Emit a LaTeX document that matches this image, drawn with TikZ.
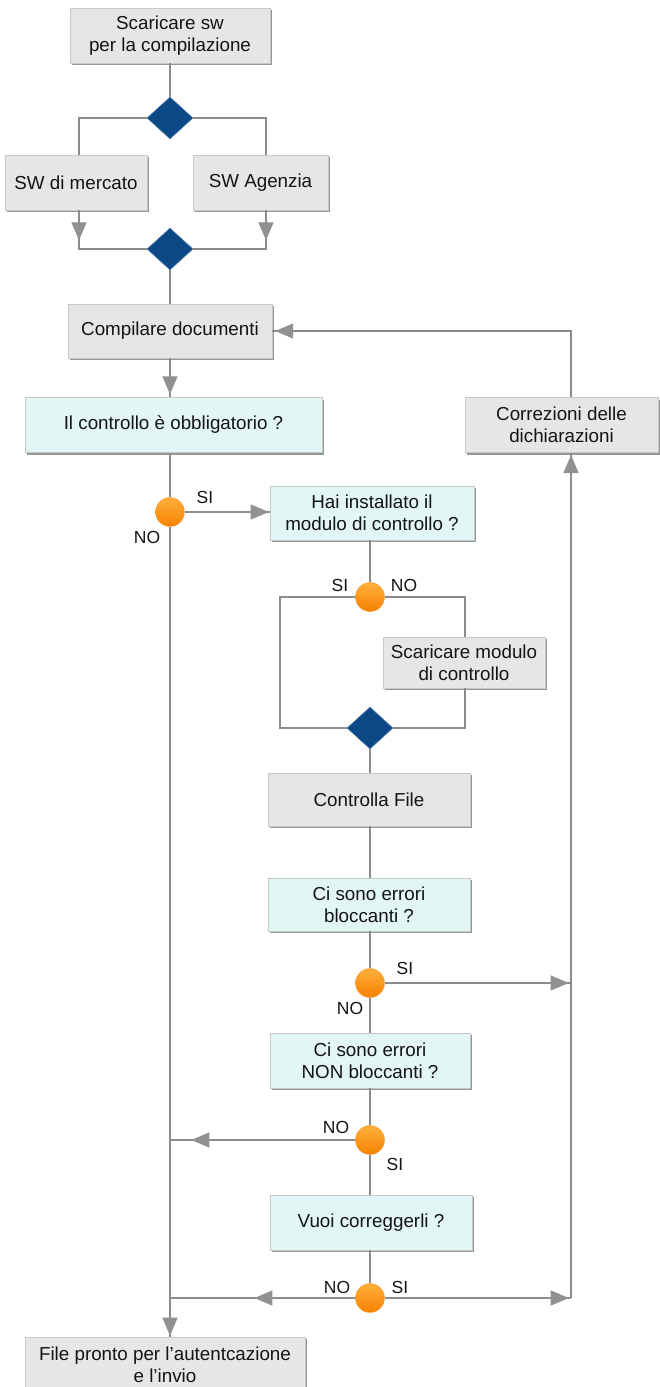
\documentclass[tikz,border=0pt]{standalone}
\usepackage{fontspec}
\setmainfont{Liberation Sans}
\usetikzlibrary{shapes.geometric,arrows.meta,decorations.markings,shadows,calc}
\definecolor{boxgray}{RGB}{230,230,230}
\definecolor{boxcyan}{RGB}{226,246,245}
\definecolor{bordergray}{RGB}{200,200,200}
\definecolor{shadowgray}{RGB}{150,150,150}
\definecolor{linegray}{RGB}{140,140,140}
\definecolor{tipgray}{RGB}{145,145,145}
\definecolor{dblue}{RGB}{11,72,133}
\definecolor{txt}{RGB}{20,20,20}
\definecolor{orangetop}{RGB}{255,175,60}
\definecolor{orangebot}{RGB}{245,130,0}
\begin{document}
\begin{tikzpicture}[x=1pt,y=-1pt,
  fbox/.style={rectangle, draw=bordergray, line width=0.6pt, fill=#1, align=center,
    inner sep=0pt, text=txt, font=\fontsize{18.8}{22}\selectfont,
    drop shadow={shadow xshift=2.2pt, shadow yshift=-2.2pt, fill=shadowgray, opacity=1}},
  gbox/.style={fbox=boxgray},
  cbox/.style={fbox=boxcyan},
  dia/.style={diamond, fill=dblue, draw=dblue!70!white, line width=0.6pt, inner sep=0pt,
    minimum width=46pt, minimum height=42pt},
  ball/.style={circle, inner sep=0pt, minimum size=29pt, top color=orangetop,
    bottom color=orangebot, draw=orangebot!80!white, line width=0.4pt},
  conn/.style={draw=linegray, line width=1.2pt},
  arrowat/.style={postaction={decorate}, decoration={markings,
    mark=at position #1 with {\arrow{Triangle[length=18pt,width=15pt,color=tipgray]}}}},
  lbl/.style={inner sep=0pt, text=txt, font=\fontsize{17.5}{17.5}\selectfont}
]
\useasboundingbox (0,0) rectangle (660,1387);

% nodes
\node[gbox, minimum width=200pt, minimum height=55pt] (A) at (170,35.5) {Scaricare sw\\per la compilazione};
\node[dia] (D1) at (170,118) {};
\node[gbox, minimum width=142pt, minimum height=55pt] (B1) at (76,182.5) {SW di mercato};
\node[gbox, minimum width=135pt, minimum height=55pt] (B2) at (260.5,182.5) {SW Agenzia};
\node[dia] (D2) at (170,249) {};
\node[gbox, minimum width=204pt, minimum height=54pt] (C) at (170,331) {Compilare documenti};
\node[cbox, minimum width=297pt, minimum height=55pt] (Q1) at (173.5,425) {Il controllo è obbligatorio ?};
\node[gbox, minimum width=193pt, minimum height=55pt] (R) at (561.5,425) {Correzioni delle\\dichiarazioni};
\node[ball] (O1) at (170,512) {};
\node[cbox, minimum width=204pt, minimum height=54pt] (Q2) at (372,513) {Hai installato il\\modulo di controllo ?};
\node[ball] (O2) at (370,597) {};
\node[gbox, minimum width=162pt, minimum height=51pt] (S) at (464,662.5) {Scaricare modulo\\di controllo};
\coordinate (L3) at (280,728);
\node[dia] (D3) at (370,728) {};
\node[gbox, minimum width=202pt, minimum height=53pt] (F) at (369,799.5) {Controlla File};
\node[cbox, minimum width=202pt, minimum height=53pt] (Q3) at (369,904.5) {Ci sono errori\\bloccanti ?};
\node[ball] (O3) at (370,983) {};
\node[cbox, minimum width=200pt, minimum height=55pt] (Q4) at (370,1060.5) {Ci sono errori\\NON bloccanti ?};
\node[ball] (O4) at (370,1140) {};
\node[cbox, minimum width=202pt, minimum height=55pt] (Q5) at (371,1222.5) {Vuoi correggerli ?};
\node[ball] (O5) at (370,1298) {};
\node[gbox, minimum width=280pt, minimum height=56pt] (E) at (165,1365) {File pronto per l’autentcazione\\e l’invio};
\coordinate (P3) at (571,983);
\coordinate (P4) at (170,1140);
\coordinate (P5L) at (170,1298);
\coordinate (P5R) at (571,1298);

% connectors
\draw[conn] (A.south) -- (D1.north);
\draw[conn] (D1.west) -| ([xshift=3pt]B1.north);
\draw[conn] (D1.east) -| ([xshift=5.5pt]B2.north);
\draw[conn, arrowat=30pt] ([xshift=3pt]B1.south) |- (D2.west);
\draw[conn, arrowat=30pt] ([xshift=5.5pt]B2.south) |- (D2.east);
\draw[conn] (D2.south) -- (C.north);
\draw[conn, arrowat=36pt] (C.south) -- (C.south |- Q1.north);
\draw[conn] (Q1.south -| O1) -- (O1.north);
\draw[conn, arrowat=84pt] (O1.east) -- (O1.east -| Q2.west);
\draw[conn] (Q2.south -| O2) -- (O2.north);
\draw[conn] (O2.west) -| (L3) -- (D3.west);
\draw[conn] (O2.east) -| ([xshift=1pt]S.north);
\draw[conn] ([xshift=1pt]S.south) |- (D3.east);
\draw[conn] (D3.south) -- (D3.south |- F.north);
\draw[conn] (D3.south |- F.south) -- (D3.south |- Q3.north);
\draw[conn] (D3.south |- Q3.south) -- (O3.north);
\draw[conn, arrowat=184pt] (O3.east) -- (P3);
\draw[conn] (O3.south) -- (O3.south |- Q4.north);
\draw[conn] (O3.south |- Q4.south) -- (O4.north);
\draw[conn, arrowat=164pt] (O4.west) -- (P4);
\draw[conn] (O4.south) -- (O4.south |- Q5.north);
\draw[conn] (O4.south |- Q5.south) -- (O5.north);
\draw[conn, arrowat=101pt] (O5.west) -- (P5L);
\draw[conn, arrowat=184pt] (O5.east) -- (P5R);
\draw[conn, arrowat=843pt] (P5R) -- (P5R |- R.south);
\draw[conn, arrowat=362pt] (P5R |- R.north) |- (C.east);
\draw[conn, arrowat=809pt] (O1.south) -- (O1.south |- E.north);

% labels
\node[lbl] (l1) at (205,497) {SI};
\node[lbl] (l2) at (147,537) {NO};
\node[lbl] (l3) at (340,585) {SI};
\node[lbl] (l4) at (404,585) {NO};
\node[lbl] (l5) at (405,968) {SI};
\node[lbl] (l6) at (350,1008) {NO};
\node[lbl] (l7) at (336,1127) {NO};
\node[lbl] (l8) at (395,1164) {SI};
\node[lbl] (l9) at (337,1287) {NO};
\node[lbl] (l10) at (400,1287) {SI};
\end{tikzpicture}
\end{document}
